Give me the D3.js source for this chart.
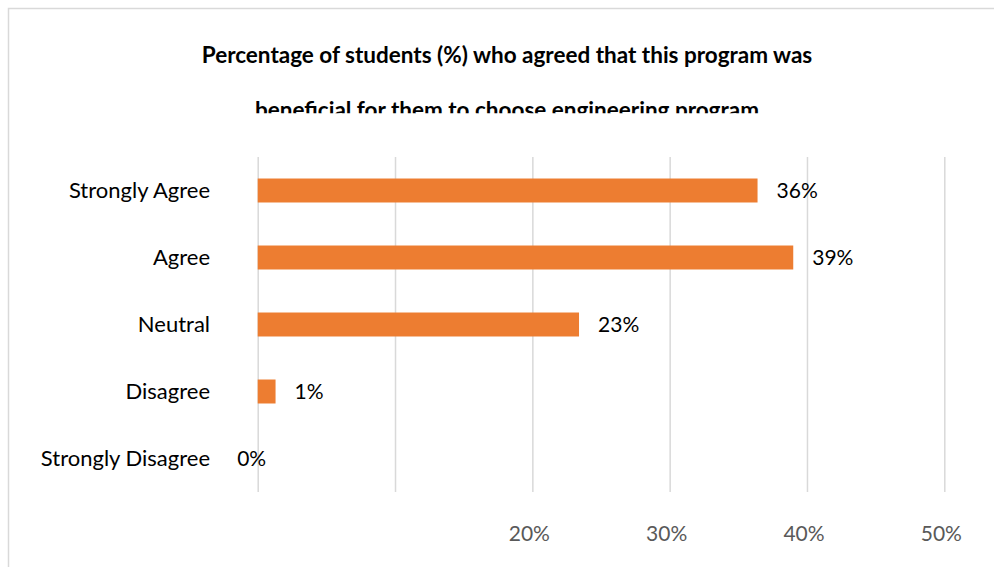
<!DOCTYPE html>
<html>
<head>
<meta charset="utf-8">
<script src="https://cdn.jsdelivr.net/npm/d3@7"></script>
<style>
  html, body { margin: 0; padding: 0; background: #fff; }
  svg { display: block; }
  text { font-family: Lato, "Open Sans", sans-serif; }
</style>
</head>
<body>
<svg id="chart" width="994" height="567"></svg>
<script>
// Survey responses, percent of students per answer
const categories = ["Strongly Agree", "Agree", "Neutral", "Disagree", "Strongly Disagree"];
const values = [36.4, 39.0, 23.4, 1.3, 0];

// Value axis: grid at every 10%, labels only on the upper ticks
const gridTicks = [0, 10, 20, 30, 40, 50];
const labelledTicks = [20, 30, 40, 50];

const titleLines = [
  "Percentage of students (%) who agreed that this program was",
  "beneficial for them to choose engineering program"
];

const W = 994, H = 567;
const plot = { left: 257.7, right: 944.3, top: 157, bottom: 492 };

const svg = d3.select("#chart");

// chart area frame (only top and left edges fall inside the view)
svg.append("rect")
  .attr("x", 8.5).attr("y", 8.5)
  .attr("width", W + 20).attr("height", H + 20)
  .attr("fill", "#fff")
  .attr("stroke", "#d9d9d9")
  .attr("stroke-width", 1.5);

// title, second line clipped by the title box
svg.append("defs").append("clipPath").attr("id", "titleClip")
  .append("rect").attr("x", 0).attr("y", 0).attr("width", W).attr("height", 113.3);

const title = svg.append("g").attr("clip-path", "url(#titleClip)");
title.selectAll("text")
  .data(titleLines)
  .join("text")
  .attr("x", 507)
  .attr("y", (d, i) => 63.3 + i * 54.4)
  .attr("text-anchor", "middle")
  .attr("font-size", 22.5)
  .attr("font-weight", 700)
  .attr("fill", "#000")
  .text(d => d);

const x = d3.scaleLinear().domain([0, 50]).range([plot.left, plot.right]);
const y = d3.scaleBand()
  .domain(categories)
  .range([plot.top, plot.bottom])
  .paddingInner(0.642)
  .paddingOuter(0.321);

// vertical gridlines + bottom tick labels
const xAxis = d3.axisBottom(x)
  .tickValues(gridTicks)
  .tickSize(-(plot.bottom - plot.top))
  .tickPadding(34)
  .tickFormat(d => labelledTicks.includes(d) ? d + "%" : "");

const gx = svg.append("g")
  .attr("transform", `translate(0,${plot.bottom})`)
  .call(xAxis);
gx.select(".domain").remove();
gx.selectAll(".tick line").attr("stroke", "#d9d9d9").attr("stroke-width", 1.5);
gx.selectAll(".tick text")
  .attr("font-family", "Lato, sans-serif")
  .attr("font-size", 21)
  .attr("fill", "#595959")
  .attr("dx", -3.5);

// category labels
const yAxis = d3.axisLeft(y).tickSize(0).tickPadding(47.7);
const gy = svg.append("g")
  .attr("transform", `translate(${plot.left},0)`)
  .call(yAxis);
gy.select(".domain").remove();
gy.selectAll(".tick text")
  .attr("font-family", "Lato, sans-serif")
  .attr("font-size", 22)
  .attr("fill", "#000");

// bars
svg.append("g")
  .selectAll("rect")
  .data(values)
  .join("rect")
  .attr("x", x(0))
  .attr("y", (d, i) => y(categories[i]))
  .attr("width", d => x(d) - x(0))
  .attr("height", y.bandwidth())
  .attr("fill", "#ED7D31");

// value labels
const fmt = d => d3.format(".0f")(d) + "%";
svg.append("g")
  .selectAll("text")
  .data(values)
  .join("text")
  .attr("x", d => d > 0 ? x(d) + 19 : x(0) - 6)
  .attr("y", (d, i) => y(categories[i]) + y.bandwidth() / 2)
  .attr("dy", "0.35em")
  .attr("text-anchor", d => d > 0 ? "start" : "middle")
  .attr("font-size", 21)
  .attr("fill", "#000")
  .text(fmt);
</script>
</body>
</html>
